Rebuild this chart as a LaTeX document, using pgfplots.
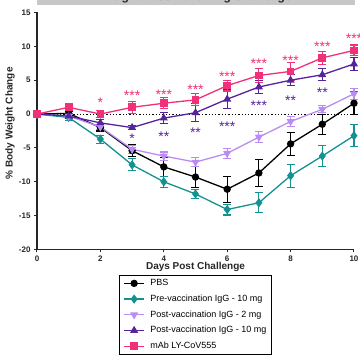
\documentclass[border=0pt]{standalone}
\usepackage{pgfplots}
\pgfplotsset{compat=1.18}
\usepackage{fontspec}
\setmainfont{Liberation Sans}

\definecolor{cpink}{RGB}{240,48,120}
\definecolor{cteal}{RGB}{20,145,145}
\definecolor{clpur}{RGB}{185,140,245}
\definecolor{cdpur}{RGB}{85,35,155}

\pgfplotstableread{
x y e
0 0 0
1 0.1 0.3
2 -2.0 0.5
3 -5.4 0.9
4 -7.8 1.4
5 -9.3 1.6
6 -11.1 1.9
7 -8.7 2.0
8 -4.4 1.7
9 -1.5 1.5
10 1.6 1.7
}\pbs
\pgfplotstableread{
x y e
0 0 0
1 -0.5 0.4
2 -3.7 0.6
3 -7.5 0.9
4 -10.0 0.8
5 -11.8 0.7
6 -14.1 0.8
7 -13.1 1.5
8 -9.1 1.7
9 -6.2 1.6
10 -3.2 1.6
}\pre
\pgfplotstableread{
x y e
0 0 0
1 -0.3 0.3
2 -1.9 0.4
3 -5.2 0.6
4 -6.2 0.6
5 -7.1 0.7
6 -5.8 0.7
7 -3.4 0.8
8 -1.1 0.7
9 0.7 0.5
10 3.0 0.8
}\posttwo
\pgfplotstableread{
x y e
0 0 0
1 -0.3 0.4
2 -1.3 0.5
3 -2.0 0.3
4 -0.6 0.8
5 0.2 1.3
6 2.2 1.4
7 4.0 0.9
8 5.0 0.8
9 5.8 0.9
10 7.4 1.0
}\postten
\pgfplotstableread{
x y e
0 0 0
1 1.0 0.3
2 0.0 0.5
3 1.0 0.9
4 1.6 0.8
5 2.1 0.9
6 4.2 0.8
7 5.7 1.0
8 6.3 1.3
9 8.3 1.0
10 9.4 0.8
}\mab
\pgfplotstableread{
x y l
2 2.2 *
3 3.2 ***
4 3.4 ***
5 4.1 ***
6 6.0 ***
7 7.9 ***
8 8.4 ***
9 10.4 ***
10 11.6 ***
}\pinkstars
\pgfplotstableread{
x y l
3 -3.1 *
4 -2.9 **
5 -2.3 **
6 -1.4 ***
7 1.7 ***
8 2.5 **
9 3.6 **
}\purstars

\begin{document}
\begin{tikzpicture}[x=1pt,y=1pt]
\fill[black!22] (37,350) rectangle (355,375);
\node[anchor=base, font=\bfseries\fontsize{12}{14}\selectfont, text=black!85] at (196,354) {Weight Loss Following Challenge};
\begin{axis}[
  at={(37pt,105.5pt)}, anchor=south west,
  scale only axis, width=317pt, height=237pt,
  xmin=0, xmax=10, ymin=-20, ymax=15,
  axis x line*=bottom, axis y line*=left,
  axis line style={line width=1.2pt, black!85},
  xtick={0,2,...,10}, ytick={-20,-15,...,15},
  tick align=outside, major tick length=3pt,
  tick style={line width=1pt, black!85},
  ticklabel style={font=\bfseries\fontsize{8}{9}\selectfont, text=black!85},
  /pgf/number format/assume math mode=true,
  xlabel={Days Post Challenge}, ylabel={\% Body Weight Change},
  label style={font=\bfseries\fontsize{10}{12}\selectfont, text=black!85},
  xlabel style={at={(axis description cs:0.5,-0.04)}, anchor=north},
  ylabel style={at={(axis description cs:-0.085,0.532)}, anchor=center},
  clip=false,
  legend cell align=left,
  legend image code/.code={\draw[mark repeat=2, mark phase=2] plot coordinates {(0pt,0pt) (10pt,0pt) (20pt,0pt)};},
  legend style={at={(axis description cs:0.259,-0.1076)}, anchor=north west,
    draw=black, line width=0.8pt, font=\fontsize{9}{10}\selectfont,
    row sep=3.7pt, inner xsep=4pt, inner ysep=2pt,
    nodes={inner sep=1.5pt, text height=7pt, text depth=2pt},
    /tikz/every odd column/.append style={column sep=4pt}},
  every axis plot/.append style={line width=1.3pt},
  error bars/y dir=both, error bars/y explicit,
  error bars/error bar style={line width=1.1pt},
  error bars/error mark options={line width=1.1pt, mark size=4pt, rotate=90},
]
\addplot[black, dotted, line width=1pt, forget plot] coordinates {(0,0) (10,0)};
\addplot[black, mark=*, mark size=3pt] table[x=x, y=y, y error=e] {\pbs};
\addlegendentry{PBS}
\addplot[cteal, mark=diamond*, mark size=3.6pt] table[x=x, y=y, y error=e] {\pre};
\addlegendentry{Pre-vaccination IgG - 10 mg}
\addplot[clpur, mark=triangle*, mark size=3.4pt, mark options={rotate=180}] table[x=x, y=y, y error=e] {\posttwo};
\addlegendentry{Post-vaccination IgG - 2 mg}
\addplot[cdpur, mark=triangle*, mark size=3.4pt] table[x=x, y=y, y error=e] {\postten};
\addlegendentry{Post-vaccination IgG - 10 mg}
\addplot[cpink, mark=square*, mark size=3.2pt] table[x=x, y=y, y error=e] {\mab};
\addlegendentry{mAb LY-CoV555}
\addplot[forget plot, only marks, mark=none, draw=none, nodes near coords, point meta=explicit symbolic,
  every node near coord/.style={anchor=base, yshift=-8pt, text=cpink, inner sep=0pt, font=\fontsize{14}{14}\selectfont}]
  table[x=x, y=y, meta=l] {\pinkstars};
\addplot[forget plot, only marks, mark=none, draw=none, nodes near coords, point meta=explicit symbolic,
  every node near coord/.style={anchor=base, yshift=-8pt, text=cdpur, inner sep=0pt, font=\fontsize{14}{14}\selectfont}]
  table[x=x, y=y, meta=l] {\purstars};
\end{axis}
\pgfresetboundingbox
\path[use as bounding box] (0,0) rectangle (360,355);
\end{tikzpicture}
\end{document}
